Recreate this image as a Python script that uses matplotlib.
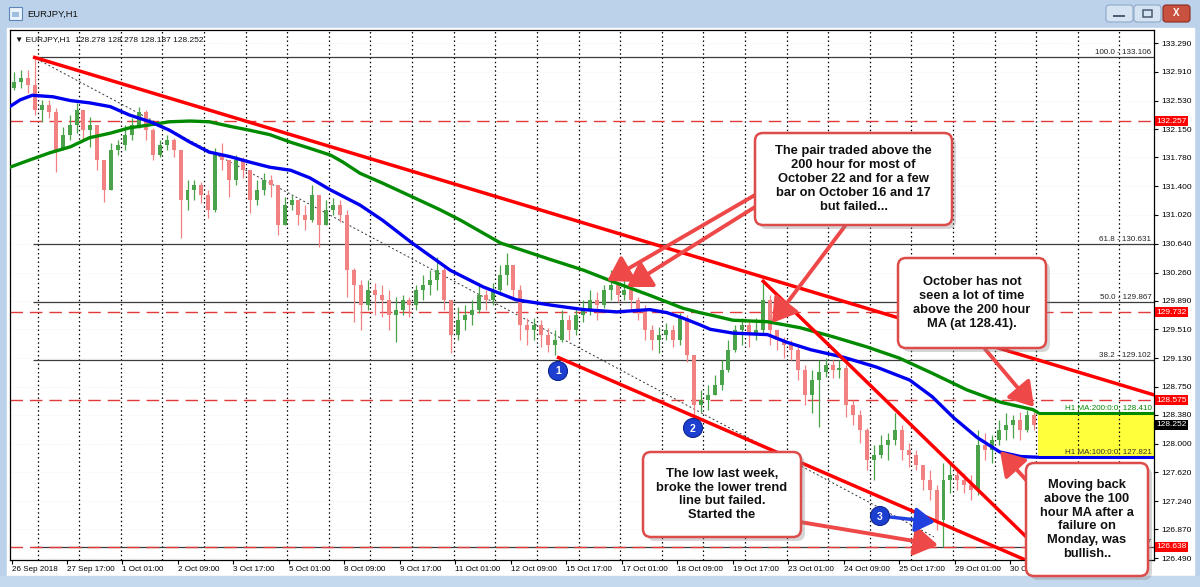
import numpy as np
import matplotlib.pyplot as plt
from matplotlib.patches import Rectangle, FancyBboxPatch, Circle, FancyArrowPatch

plt.rcParams['font.family'] = ['Liberation Sans', 'DejaVu Sans']

W, H = 1200, 587

# ---- data (4-hour candles built from the H1 chart, bar index = hours from 26 Sep 09:00) ----
bars_per_candle = 4
open0 = 132.70
close = [132.78, 132.83, 132.74, 132.41, 132.47, 132.38, 131.88, 132.08, 132.21, 132.41,
         132.14, 132.21, 131.75, 131.35, 131.88, 131.94, 132.08, 132.21, 132.38, 132.14,
         131.81, 131.94, 132.01, 131.88, 131.22, 131.35, 131.42, 131.28, 131.09, 131.81,
         131.75, 131.48, 131.75, 131.61, 131.22, 131.35, 131.48, 131.42, 130.89, 131.15,
         131.22, 131.02, 130.95, 131.28, 130.89, 131.09, 131.15, 131.02, 130.29, 130.10,
         129.83, 130.03, 129.96, 129.90, 129.70, 129.77, 129.90, 129.83, 130.03, 130.10,
         130.16, 130.29, 129.90, 129.44, 129.63, 129.70, 129.77, 129.96, 129.90, 130.03,
         130.23, 130.36, 130.03, 129.57, 129.50, 129.57, 129.44, 129.30, 129.37, 129.63,
         129.50, 129.70, 129.77, 129.90, 129.83, 130.03, 130.10, 129.96, 130.03, 129.90,
         129.77, 129.50, 129.37, 129.44, 129.50, 129.37, 129.66, 129.17, 128.51, 128.58,
         128.64, 128.78, 128.97, 129.24, 129.50, 129.57, 129.44, 129.50, 129.90, 129.50,
         129.37, 129.30, 129.24, 128.97, 128.64, 128.84, 128.95, 129.04, 128.97, 129.00,
         128.51, 128.38, 128.18, 127.79, 127.85, 127.98, 128.05, 128.18, 127.92, 127.85,
         127.72, 127.52, 127.39, 126.99, 127.52, 127.59, 127.52, 127.45, 127.39, 127.98,
         127.92, 128.05, 128.18, 128.25, 128.31, 128.18, 128.38, 128.252]
high = [132.91, 132.93, 132.93, 133.106, 132.54, 132.54, 132.43, 132.18, 132.34, 132.50,
        132.31, 132.31, 132.21, 131.75, 131.97, 132.01, 132.21, 132.30, 132.45, 132.41,
        132.17, 132.01, 132.08, 132.04, 131.88, 131.48, 131.48, 131.46, 131.35, 131.90,
        131.97, 131.75, 131.81, 131.79, 131.61, 131.48, 131.57, 131.55, 131.42, 131.26,
        131.28, 131.18, 131.15, 131.42, 131.28, 131.22, 131.24, 131.22, 131.09, 130.32,
        130.16, 130.16, 130.12, 130.10, 130.03, 129.94, 129.96, 129.94, 130.10, 130.23,
        130.29, 130.47, 130.36, 129.90, 129.81, 129.83, 129.90, 130.12, 130.03, 130.12,
        130.36, 130.52, 130.36, 130.10, 129.66, 129.66, 129.63, 129.53, 129.50, 129.77,
        129.70, 129.79, 129.90, 130.03, 130.00, 130.10, 130.29, 130.12, 130.16, 130.06,
        129.94, 129.83, 129.57, 129.54, 129.59, 129.57, 129.73, 129.70, 129.17, 128.71,
        128.78, 128.91, 129.10, 129.37, 129.57, 129.66, 129.63, 129.66, 130.16, 129.96,
        129.50, 129.41, 129.37, 129.30, 129.04, 128.97, 129.10, 129.13, 129.10, 129.10,
        129.04, 128.58, 128.45, 128.21, 127.98, 128.12, 128.14, 128.41, 128.25, 128.01,
        127.92, 127.72, 127.65, 127.45, 127.75, 127.75, 127.65, 127.61, 127.59, 128.18,
        128.14, 128.12, 128.31, 128.41, 128.38, 128.42, 128.45, 128.42]
low = [132.67, 132.70, 132.63, 132.34, 132.25, 132.30, 131.59, 131.88, 132.01, 132.10,
       132.01, 131.92, 131.61, 131.19, 131.35, 131.81, 131.88, 132.01, 132.17, 132.01,
       131.75, 131.79, 131.88, 131.79, 130.72, 131.09, 131.22, 131.18, 130.98, 131.06,
       131.61, 131.26, 131.42, 131.51, 131.05, 131.15, 131.28, 131.26, 130.76, 130.89,
       131.09, 130.89, 130.82, 130.93, 130.60, 130.89, 131.02, 130.93, 129.94, 129.61,
       129.50, 129.77, 129.70, 129.67, 129.50, 129.34, 129.70, 129.67, 129.77, 129.90,
       129.96, 130.03, 129.77, 129.20, 129.37, 129.50, 129.57, 129.73, 129.77, 129.83,
       129.96, 130.10, 129.90, 129.37, 129.30, 129.37, 129.28, 129.21, 129.17, 129.34,
       129.37, 129.44, 129.61, 129.70, 129.63, 129.79, 129.90, 129.87, 129.90, 129.77,
       129.63, 129.37, 129.24, 129.20, 129.37, 129.28, 129.30, 129.08, 128.35, 128.42,
       128.44, 128.64, 128.71, 128.95, 129.21, 129.30, 129.28, 129.37, 129.44, 129.30,
       129.24, 129.13, 129.10, 128.84, 128.51, 128.40, 128.22, 128.88, 128.87, 128.87,
       128.35, 128.25, 128.01, 127.65, 127.52, 127.81, 127.79, 127.98, 127.79, 127.69,
       127.65, 127.39, 127.26, 126.86, 126.638, 127.35, 127.39, 127.35, 127.26, 127.32,
       127.79, 127.75, 127.98, 128.05, 128.08, 128.05, 128.15, 128.18]

ma100_bar = [-1, 5, 12, 24, 34, 45, 57, 68, 80, 91, 103, 114, 126, 137, 149, 161, 172, 184,
             201, 214, 231, 253, 272, 291, 311, 330, 349, 368, 378, 387, 397, 403, 416, 436,
             447, 461, 480, 499, 518, 531, 543, 557, 570, 582, 592]
ma100_val = [132.45, 132.54, 132.60, 132.58, 132.53, 132.50, 132.45, 132.34, 132.25, 132.14,
             131.98, 131.85, 131.79, 131.72, 131.65, 131.61, 131.51, 131.35, 131.15, 130.95,
             130.65, 130.29, 130.07, 129.90, 129.83, 129.77, 129.74, 129.77, 129.73, 129.66,
             129.57, 129.51, 129.46, 129.44, 129.34, 129.24, 129.14, 129.01, 128.84, 128.62,
             128.35, 128.08, 127.89, 127.83, 127.821]
ma200_bar = [-1, 11, 22, 34, 45, 57, 68, 80, 91, 103, 114, 126, 137, 149, 161, 172, 184, 191,
             201, 214, 231, 247, 259, 282, 311, 330, 349, 368, 387, 397, 403, 416, 436, 455,
             474, 493, 512, 531, 551, 570, 589, 592]
ma200_val = [131.65, 131.75, 131.84, 131.92, 132.04, 132.10, 132.17, 132.21, 132.25, 132.26,
             132.25, 132.19, 132.14, 132.08, 131.98, 131.90, 131.81, 131.72, 131.57, 131.44,
             131.26, 131.09, 130.95, 130.65, 130.43, 130.29, 130.12, 129.96, 129.79, 129.73,
             129.70, 129.63, 129.61, 129.53, 129.41, 129.28, 129.13, 128.93, 128.71, 128.55,
             128.45, 128.410]
ma200_last = 128.410
ma100_last = 127.821
last_bar = 592

fib_names = ['100.0', '61.8', '50.0', '38.2', '0.0']
fib_prices = [133.106, 130.631, 129.867, 129.102, 126.637]
fib_start = 12.4
level_lines = [132.257, 129.732, 128.575, 126.638]
last_price = 128.252
header = '\u25bc EURJPY,H1  128.278 128.278 128.187 128.252'

# drawn trend lines: (bar index pair, price pair)
trend_upper = ([12.4, 659], [133.106, 128.643])
trend_steep = ([432.8, 587], [130.16, 126.73])
trend_lower = ([314.6, 587.4], [129.145, 126.438])
trend_dotted = ([12.4, 532], [133.106, 126.77])

yticks = [133.290, 132.910, 132.530, 132.150, 131.780, 131.400, 131.020, 130.640, 130.260,
          129.890, 129.510, 129.130, 128.750, 128.380, 128.000, 127.620, 127.240, 126.870,
          126.490]
xtick_labels = ['26 Sep 2018', '27 Sep 17:00', '1 Oct 01:00', '2 Oct 09:00', '3 Oct 17:00',
                '5 Oct 01:00', '8 Oct 09:00', '9 Oct 17:00', '11 Oct 01:00', '12 Oct 09:00',
                '15 Oct 17:00', '17 Oct 01:00', '18 Oct 09:00', '19 Oct 17:00', '23 Oct 01:00',
                '24 Oct 09:00', '25 Oct 17:00', '29 Oct 01:00', '30 Oct 09:00']
xtick_step = 32
day_start = 15

XMIN, XMAX = -0.87, 658.9
YMIN, YMAX = 126.464, 133.462

fig = plt.figure(figsize=(12, 5.87), dpi=100)

# ---- window chrome ----
bg = fig.add_axes([0, 0, 1, 1], zorder=0)
bg.axis('off')
bg.add_patch(Rectangle((0, 0), W, H, color='#bcd2ea'))
grad = np.linspace(0, 1, 30)[:, None, None]
top_c = np.array([0.87, 0.92, 0.97])
bot_c = np.array([0.76, 0.84, 0.93])
bg.imshow(np.broadcast_to(top_c + (bot_c - top_c) * grad, (30, 2, 3)),
          extent=[0, W, 28, 0], aspect='auto')
bg.add_patch(Rectangle((7, 28), 1187, 548, color='white'))
bg.add_patch(Rectangle((0, 576), W, 11, color='#c4d8ee'))
bg.add_patch(Rectangle((9, 7), 13, 13, fc='#eaf2fb', ec='#5f86b8', lw=0.8))
bg.add_patch(Rectangle((12, 12), 7, 5, fc='#9fbde0', ec='none'))
bg.text(27, 14.5, 'EURJPY,H1', va='center', ha='left', size=6.8, color='#111111')
for bx, fc, ec in [(1106, '#d5e3f2', '#8ea9c9'), (1134, '#d5e3f2', '#8ea9c9'),
                   (1163, '#c8513f', '#8a2a20')]:
    bg.add_patch(FancyBboxPatch((bx, 5), 27, 17, boxstyle='round,pad=0,rounding_size=3',
                                fc=fc, ec=ec, lw=0.8))
bg.plot([1114, 1124], [16, 16], color='#4a5a70', lw=1.4)
bg.add_patch(Rectangle((1143, 10), 9, 7, fc='none', ec='#4a5a70', lw=1.1))
bg.text(1176.5, 13.5, 'X', ha='center', va='center', color='white', size=7, weight='bold')
bg.set_xlim(0, W)
bg.set_ylim(H, 0)

# ---- price chart ----
ax = fig.add_axes([10 / W, 1 - 560 / H, 1144 / W, 530 / H], zorder=1)
ax.set_facecolor('white')
ax.set_xlim(XMIN, XMAX)
ax.set_ylim(YMIN, YMAX)

for v in yticks:
    ax.axhline(v, color='#eeeeee', lw=0.6, ls=(0, (1, 2)), zorder=0.5)
for d in range(day_start, int(XMAX) + 1, 24):
    ax.axvline(d, color='black', lw=0.9, ls=(0, (1.2, 2.2)), zorder=1.6)

ax.add_patch(Rectangle((last_bar, ma100_last), XMAX - last_bar, ma200_last - ma100_last,
                       fc='#ffff3c', ec='none', zorder=1))

for name, p in zip(fib_names, fib_prices):
    ax.hlines(p, fib_start, XMAX, color='#3c3c3c', lw=0.9, zorder=2)
    ax.text(XMAX - 1.5, p + 0.012, f'{name} - {p:.3f}', ha='right', va='bottom',
            size=5.8, color='#222222', zorder=2)
for p in level_lines:
    ax.axhline(p, color='#e23a3a', lw=1.0, ls=(0, (9, 5)), zorder=2)

ax.plot(*trend_dotted, color='#333333', lw=0.7, ls=(0, (2, 2.5)), zorder=2.2)

c = np.array(close)
o = np.r_[open0, c[:-1]]
hi = np.maximum(np.array(high), np.maximum(o, c))
lo = np.minimum(np.array(low), np.minimum(o, c))
xs = np.arange(len(c)) * bars_per_candle + 1.5
cols = np.where(c >= o, '#4aa34a', '#f28282')
ax.vlines(xs, lo, hi, colors=cols, lw=0.9, zorder=3)
ax.bar(xs, np.maximum(np.abs(c - o), 0.012), bottom=np.minimum(o, c), width=2.3,
       color=cols, linewidth=0, zorder=3.1)

ax.plot(ma200_bar, ma200_val, color='#008a00', lw=2.4, zorder=4, solid_capstyle='round')
ax.plot(ma100_bar, ma100_val, color='#0000f0', lw=2.4, zorder=4, solid_capstyle='round')
ax.hlines(ma200_last, last_bar, XMAX, color='#008a00', lw=2.2, zorder=4)
ax.hlines(ma100_last, last_bar, XMAX, color='#0000f0', lw=2.2, zorder=4)
ax.text(XMAX - 1.5, ma200_last + 0.012, f'H1 MA:200:0:0: {ma200_last:.3f}', ha='right',
        va='bottom', size=5.8, color='#008a00', zorder=4)
ax.text(XMAX - 1.5, ma100_last + 0.012, f'H1 MA:100:0:0: {ma100_last:.3f}', ha='right',
        va='bottom', size=5.8, color='#333322', zorder=4)

for tl in (trend_upper, trend_steep, trend_lower):
    ax.plot(*tl, color='#ff0000', lw=2.5, zorder=5, solid_capstyle='butt')

ax.text(0.004, 0.988, header, transform=ax.transAxes, ha='left', va='top', size=6,
        color='#111111', zorder=6)

# axes
ax.yaxis.tick_right()
ax.set_yticks(yticks)
ax.set_yticklabels([f'{v:.3f}' for v in yticks])
ax.set_xticks([i * xtick_step for i in range(len(xtick_labels))])
ax.set_xticklabels(xtick_labels)
for lab in ax.get_xticklabels():
    lab.set_horizontalalignment('left')
ax.tick_params(axis='y', direction='out', length=3, width=0.8, labelsize=6, pad=2)
ax.tick_params(axis='x', direction='out', length=3, width=0.8, labelsize=5.8, pad=1.5)
for s in ax.spines.values():
    s.set_color('black')
    s.set_linewidth(0.9)

for p, fc in [(v, '#ff0000') for v in level_lines] + [(last_price, 'black')]:
    ax.text(1.002, p, f'{p:.3f}', transform=ax.get_yaxis_transform(), ha='left', va='center',
            size=6, color='white', zorder=7, clip_on=False,
            bbox=dict(boxstyle='square,pad=0.18', fc=fc, ec='none'))

# ---- annotations (reference pixel space) ----
ov = fig.add_axes([0, 0, 1, 1], zorder=2)
ov.set_facecolor('none')
ov.axis('off')
ov.set_xlim(0, W)
ov.set_ylim(H, 0)

arrows = [((755, 195), (607, 281)), ((755, 207), (627, 287)), ((845, 226), (772, 323)),
          ((985, 349), (1034, 407)), ((800, 522), (938, 545)), ((1027, 481), (1000, 451))]
for a, b in arrows:
    ov.add_patch(FancyArrowPatch(a, b, arrowstyle='-|>,head_length=0.8,head_width=0.5',
                                 mutation_scale=18, lw=2.8, color='#ee4848',
                                 shrinkA=0, shrinkB=0, zorder=3))
ov.add_patch(FancyArrowPatch((890, 517), (935, 522), arrowstyle='-|>,head_length=0.8,head_width=0.5',
                             mutation_scale=15, lw=2.5, color='#2040e0', shrinkA=0, shrinkB=0,
                             zorder=3))

boxes = [
    (755, 133, 197, 92, 'The pair traded above the\n200 hour for most of\nOctober 22 and for a few\n'
                        'bar on October 16 and 17\nbut failed...'),
    (898, 258, 148, 90, 'October has not\nseen a lot of time\nabove the 200 hour\nMA (at 128.41).'),
    (643, 452, 158, 85, 'The low last week,\nbroke the lower trend\nline but failed.\nStarted the'),
    (1026, 463, 122, 113, 'Moving back\nabove the 100\nhour MA after a\nfailure on\nMonday, was\nbullish..'),
]
for bx, by, bw, bh, txt in boxes:
    ov.add_patch(FancyBboxPatch((bx + 4, by + 4), bw, bh, boxstyle='round,pad=0,rounding_size=8',
                                fc='#888888', ec='none', alpha=0.35, zorder=4))
    ov.add_patch(FancyBboxPatch((bx, by), bw, bh, boxstyle='round,pad=0,rounding_size=8',
                                fc='white', ec='#dd4b4b', lw=1.8, zorder=5))
    ov.text(bx + bw / 2, by + bh / 2, txt, ha='center', va='center', size=9.3,
            weight='bold', color='#111111', linespacing=1.2, zorder=6)

for num, (mx, my) in zip(['1', '2', '3'], [(558, 371), (693, 428), (880, 516)]):
    ov.add_patch(Circle((mx, my), 9.5, fc='#1c3fd0', ec='#0c2590', lw=0.8, zorder=7))
    ov.text(mx, my + 0.5, num, ha='center', va='center', color='white', size=7.5,
            weight='bold', zorder=8)

fig.savefig('out.png', dpi=100)
